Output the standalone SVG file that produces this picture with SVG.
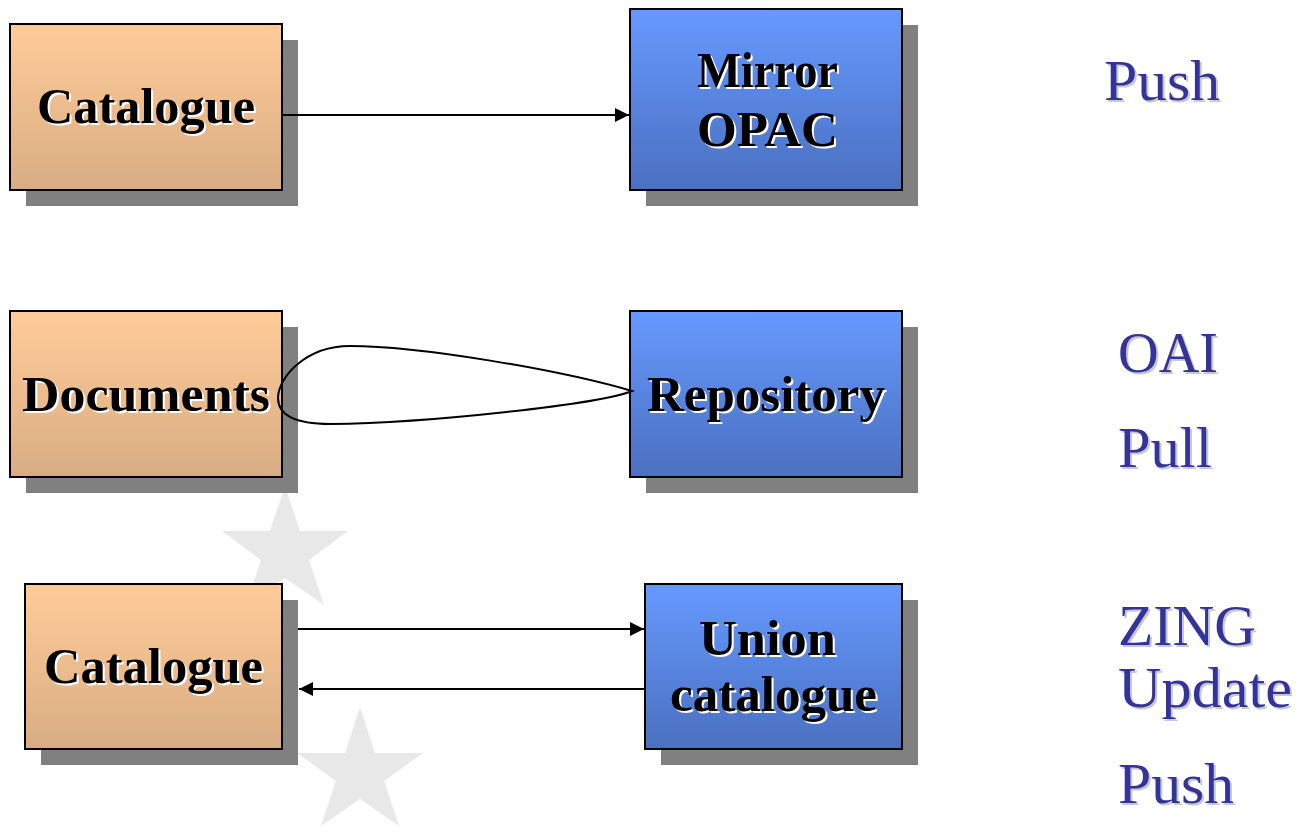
<svg xmlns="http://www.w3.org/2000/svg" width="1302" height="833" viewBox="0 0 1302 833">
<defs>
<linearGradient id="gOr" x1="0" y1="0" x2="0" y2="1"><stop offset="0" stop-color="#FFCC99"/><stop offset="1" stop-color="#D8AC82"/></linearGradient>
<linearGradient id="gBl" x1="0" y1="0" x2="0" y2="1"><stop offset="0" stop-color="#6699FF"/><stop offset="1" stop-color="#4A70C0"/></linearGradient>
<marker id="ah" viewBox="0 0 10 10" refX="10" refY="5" markerWidth="15" markerHeight="14" markerUnits="userSpaceOnUse" orient="auto"><path d="M0,0 L10,5 L0,10 Z" fill="#000"/></marker>
</defs>
<style>
.sh{fill:#808080}
.or{fill:url(#gOr);stroke:#000;stroke-width:2}
.bl{fill:url(#gBl);stroke:#000;stroke-width:2}
.nt{font-family:"Liberation Serif",serif;font-weight:bold;font-size:50px}
.nts{fill:#fff}
.ntf{fill:#000}
.rt{font-family:"Liberation Serif",serif;font-size:58px;fill:#333399}
.rts{fill:#c8c8c8}
.cn{fill:none;stroke:#000;stroke-width:2}
.star{fill:#e8e8e8}
</style>
<rect width="1302" height="833" fill="#fff"/>
<g id="stars">
<polygon class="star" points="285,486 300,531 348,531 309,560 324,605 285,578 246,605 261,560 222,531 270,531"/>
<polygon class="star" points="360,707 375,753 423,753 384,781 399,826 360,799 321,826 336,781 297,753 345,753"/>
</g>
<g id="node-catalogue1">
<rect class="sh" x="26" y="40" width="272" height="166"/>
<rect class="or" x="10" y="24" width="272" height="166"/>
<text class="nt nts" x="39" y="125" textLength="218" lengthAdjust="spacingAndGlyphs">Catalogue</text>
<text class="nt ntf" x="37" y="123" textLength="218" lengthAdjust="spacingAndGlyphs">Catalogue</text>
</g>
<g id="node-mirror">
<rect class="sh" x="646" y="25" width="272" height="181"/>
<rect class="bl" x="630" y="9" width="272" height="181"/>
<text class="nt nts" x="699" y="89" textLength="141" lengthAdjust="spacingAndGlyphs">Mirror</text>
<text class="nt ntf" x="697" y="87" textLength="141" lengthAdjust="spacingAndGlyphs">Mirror</text>
<text class="nt nts" x="699" y="148" textLength="141" lengthAdjust="spacingAndGlyphs">OPAC</text>
<text class="nt ntf" x="697" y="146" textLength="141" lengthAdjust="spacingAndGlyphs">OPAC</text>
</g>
<g id="node-documents">
<rect class="sh" x="26" y="327" width="272" height="166"/>
<rect class="or" x="10" y="311" width="272" height="166"/>
<text class="nt nts" x="24" y="413" textLength="248" lengthAdjust="spacingAndGlyphs">Documents</text>
<text class="nt ntf" x="22" y="411" textLength="248" lengthAdjust="spacingAndGlyphs">Documents</text>
</g>
<g id="node-repository">
<rect class="sh" x="646" y="327" width="272" height="166"/>
<rect class="bl" x="630" y="311" width="272" height="166"/>
<text class="nt nts" x="649" y="413" textLength="238" lengthAdjust="spacingAndGlyphs">Repository</text>
<text class="nt ntf" x="647" y="411" textLength="238" lengthAdjust="spacingAndGlyphs">Repository</text>
</g>
<g id="node-catalogue3">
<rect class="sh" x="41" y="600" width="257" height="165"/>
<rect class="or" x="25" y="584" width="257" height="165"/>
<text class="nt nts" x="46" y="685" textLength="219" lengthAdjust="spacingAndGlyphs">Catalogue</text>
<text class="nt ntf" x="44" y="683" textLength="219" lengthAdjust="spacingAndGlyphs">Catalogue</text>
</g>
<g id="node-union">
<rect class="sh" x="661" y="600" width="257" height="165"/>
<rect class="bl" x="645" y="584" width="257" height="165"/>
<text class="nt nts" x="701" y="657" textLength="137" lengthAdjust="spacingAndGlyphs">Union</text>
<text class="nt ntf" x="699" y="655" textLength="137" lengthAdjust="spacingAndGlyphs">Union</text>
<text class="nt nts" x="672" y="713" textLength="207" lengthAdjust="spacingAndGlyphs">catalogue</text>
<text class="nt ntf" x="670" y="711" textLength="207" lengthAdjust="spacingAndGlyphs">catalogue</text>
</g>
<g id="connectors">
<line class="cn" x1="282" y1="115" x2="629" y2="115" marker-end="url(#ah)"/>
<path class="cn" d="M632,391 C560,370 420,346 350,346 C305,346 278,378 278,398 C278,416 298,424 330,424 C430,423 600,404 632,391 Z"/>
<line class="cn" x1="298" y1="629" x2="644" y2="629" marker-end="url(#ah)"/>
<line class="cn" x1="645" y1="689" x2="299" y2="689" marker-end="url(#ah)"/>
</g>
<g id="labels">
<text class="rt rts" x="1106" y="102" textLength="116" lengthAdjust="spacingAndGlyphs">Push</text>
<text class="rt" x="1104" y="100" textLength="116" lengthAdjust="spacingAndGlyphs">Push</text>
<text class="rt rts" x="1120" y="374" textLength="100" lengthAdjust="spacingAndGlyphs">OAI</text>
<text class="rt" x="1118" y="372" textLength="100" lengthAdjust="spacingAndGlyphs">OAI</text>
<text class="rt rts" x="1120" y="469" textLength="94" lengthAdjust="spacingAndGlyphs">Pull</text>
<text class="rt" x="1118" y="467" textLength="94" lengthAdjust="spacingAndGlyphs">Pull</text>
<text class="rt rts" x="1120" y="647" textLength="138" lengthAdjust="spacingAndGlyphs">ZING</text>
<text class="rt" x="1118" y="645" textLength="138" lengthAdjust="spacingAndGlyphs">ZING</text>
<text class="rt rts" x="1120" y="709" textLength="174" lengthAdjust="spacingAndGlyphs">Update</text>
<text class="rt" x="1118" y="707" textLength="174" lengthAdjust="spacingAndGlyphs">Update</text>
<text class="rt rts" x="1120" y="805" textLength="116" lengthAdjust="spacingAndGlyphs">Push</text>
<text class="rt" x="1118" y="803" textLength="116" lengthAdjust="spacingAndGlyphs">Push</text>
</g>
</svg>
